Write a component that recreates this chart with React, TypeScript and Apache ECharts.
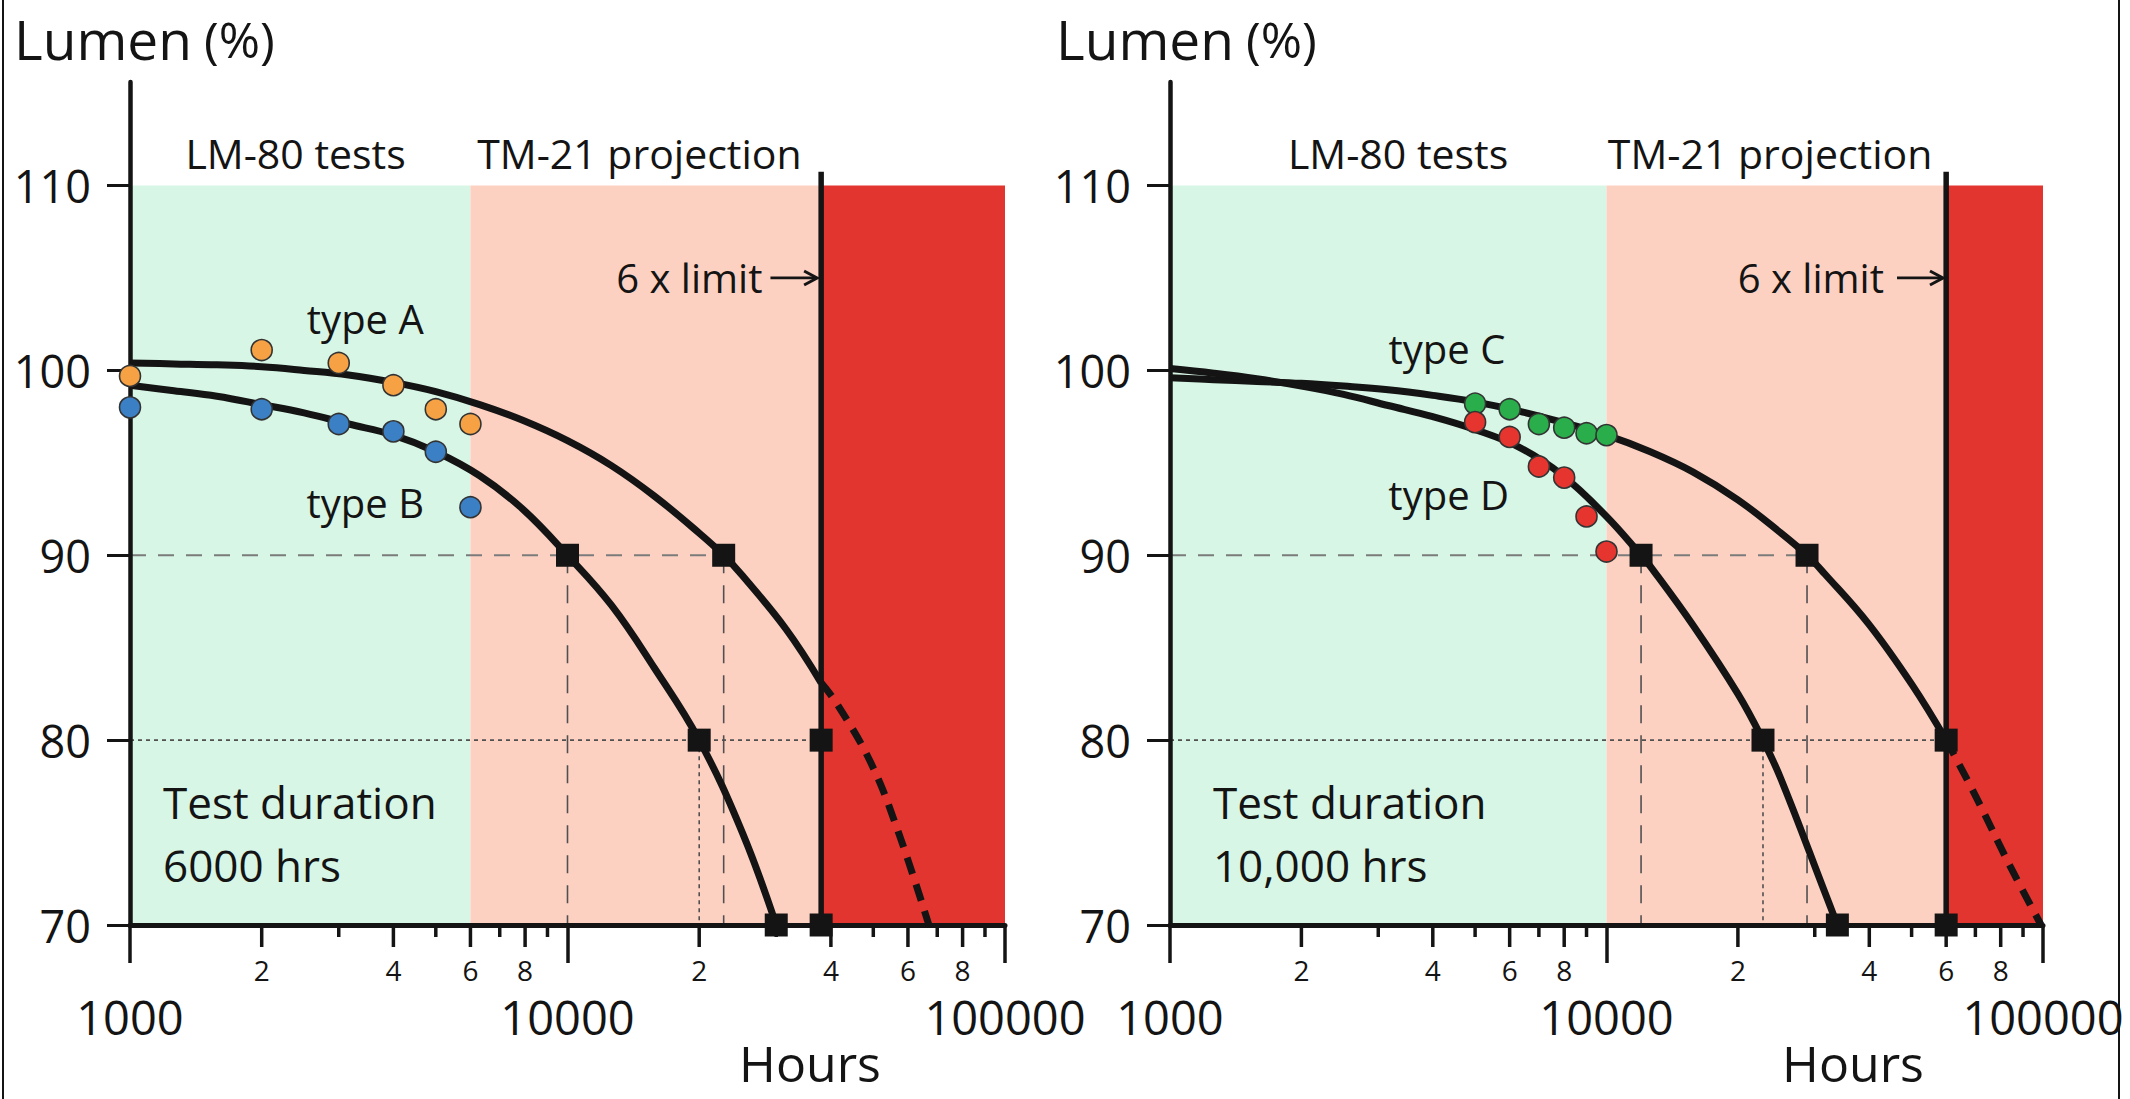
import React, { useEffect, useRef } from 'react';
import * as echarts from 'echarts';

const FONT = '"Open Sans", "Noto Sans", "DejaVu Sans", sans-serif';
const INK = '#141414';

// ---------- axes ----------
const yTickValues = [70, 80, 90, 100, 110];
const minorTickHours = [2000, 3000, 4000, 5000, 6000, 7000, 8000, 9000, 20000, 30000, 40000, 50000, 60000, 70000, 80000, 90000];
const minorTickLabels = ['2', '', '4', '', '6', '', '8', '', '2', '', '4', '', '6', '', '8', ''];
const zoneLumen = [70, 110];
const zoneColors = ['#d7f6e6', '#fdd1c2', '#e3352f'];
const limitTop = 110.75;

// ---------- left panel: 6000 h test ----------
const testHoursAB = [1000, 2000, 3000, 4000, 5000, 6000];
const lumenTypeA = [99.7, 101.1, 100.4, 99.2, 97.9, 97.1];
const lumenTypeB = [98.0, 97.9, 97.1, 96.7, 95.6, 92.6];
const fitTypeA = [[1000, 100.4], [1260, 100.35], [1580, 100.3], [2000, 100.2], [2500, 100.0], [3160, 99.75], [4000, 99.35], [5000, 98.85], [6300, 98.15], [7900, 97.3], [10000, 96.2], [12600, 94.85], [15800, 93.2], [20000, 91.2], [22750, 90.0], [25100, 88.9], [31600, 86.0], [38000, 83.1]];
const fitTypeAProjected = [[38000, 83.1], [41200, 82.0], [49300, 78.8], [56900, 75.1], [67000, 70.0]];
const fitTypeB = [[1000, 99.2], [1260, 98.9], [1580, 98.6], [2000, 98.15], [2500, 97.7], [3160, 97.1], [4000, 96.5], [5000, 95.6], [6300, 94.3], [7900, 92.5], [10000, 90.0], [12600, 87.3], [15800, 83.9], [20000, 80.0], [25100, 75.0], [30000, 70.0]];
const milestonesAB = [[10000, 90], [22750, 90], [20000, 80], [38000, 80], [30000, 70], [38000, 70]];
const zonesAB = [1000, 6000, 38000, 100000];
const limitAB = 38000;
const guide90AB = [[1000, 90], [22750, 90]];
const guide80AB = [[1000, 80], [38000, 80]];
const dropsFrom90AB = [10000, 22750];
const dropsFrom80AB = [20000];

// ---------- right panel: 10,000 h test ----------
const testHoursCD = [5000, 6000, 7000, 8000, 9000, 10000];
const lumenTypeC = [98.2, 97.9, 97.1, 96.9, 96.6, 96.5];
const lumenTypeD = [97.2, 96.4, 94.8, 94.2, 92.1, 90.2];
const fitTypeC = [[1000, 99.6], [1260, 99.5], [1580, 99.4], [2000, 99.3], [2500, 99.15], [3160, 98.95], [4000, 98.65], [5000, 98.3], [6300, 97.8], [7900, 97.2], [10000, 96.5], [12600, 95.6], [15800, 94.5], [20000, 93.0], [25100, 91.2], [28800, 90.0], [31600, 89.0], [39800, 86.3], [50100, 83.0], [60000, 80.0]];
const fitTypeCProjected = [[60000, 80.0], [70000, 77.0], [84000, 73.2], [99000, 70.0]];
const fitTypeD = [[1000, 100.1], [1260, 99.85], [1580, 99.55], [2000, 99.15], [2500, 98.7], [3160, 98.1], [4000, 97.5], [5000, 96.8], [6300, 95.85], [7900, 94.35], [10000, 92.1], [12000, 90.0], [12600, 89.4], [15800, 86.2], [20000, 82.5], [22830, 80.0], [25100, 77.9], [31600, 71.8], [33800, 70.0]];
const milestonesCD = [[12000, 90], [28800, 90], [22830, 80], [60000, 80], [33800, 70], [60000, 70]];
const zonesCD = [1000, 10000, 60000, 100000];
const limitCD = 60000;
const guide90CD = [[1000, 90], [28800, 90]];
const guide80CD = [[1000, 80], [60000, 80]];
const dropsFrom90CD = [12000, 28800];
const dropsFrom80CD = [22830];

// ---------- text annotations (data coords) ----------
const notesAB = [
  { text: 'LM-80 tests', x: 2390, y: 111.75, align: 'center', size: 41 },
  { text: 'TM-21 projection', x: 14600, y: 111.75, align: 'center', size: 41 },
  { text: '6 x limit', x: 27900, y: 105, align: 'right', size: 40 },
  { text: 'type A', x: 3450, y: 102.8, align: 'center', size: 40 },
  { text: 'type B', x: 3450, y: 92.85, align: 'center', size: 40 },
  { text: 'Test duration\n6000 hrs', x: 1190, y: 74.95, align: 'left', size: 44 },
];
const notesCD = [
  { text: 'LM-80 tests', x: 3330, y: 111.75, align: 'center', size: 41 },
  { text: 'TM-21 projection', x: 23700, y: 111.75, align: 'center', size: 41 },
  { text: '6 x limit', x: 43200, y: 105, align: 'right', size: 40 },
  { text: 'type C', x: 4310, y: 101.2, align: 'center', size: 40 },
  { text: 'type D', x: 4350, y: 93.3, align: 'center', size: 40 },
  { text: 'Test duration\n10,000 hrs', x: 1254, y: 74.95, align: 'left', size: 44 },
];
const arrowAB = [29100, 37200];
const arrowCD = [46300, 59000];

const panels = [
  {
    hours: testHoursAB, upper: lumenTypeA, lower: lumenTypeB, upperColor: '#f6a244', lowerColor: '#3b7fc4',
    fitUpper: fitTypeA, fitUpperProj: fitTypeAProjected, fitLower: fitTypeB, milestones: milestonesAB,
    zones: zonesAB, limit: limitAB, guide90: guide90AB, guide80: guide80AB, drops90: dropsFrom90AB, drops80: dropsFrom80AB,
    notes: notesAB, arrow: arrowAB,
  },
  {
    hours: testHoursCD, upper: lumenTypeC, lower: lumenTypeD, upperColor: '#2aae4b', lowerColor: '#e5352e',
    fitUpper: fitTypeC, fitUpperProj: fitTypeCProjected, fitLower: fitTypeD, milestones: milestonesCD,
    zones: zonesCD, limit: limitCD, guide90: guide90CD, guide80: guide80CD, drops90: dropsFrom90CD, drops80: dropsFrom80CD,
    notes: notesCD, arrow: arrowCD,
  },
];

function panelSeries(i: number, p: any): any[] {
  const ax = { xAxisIndex: i, yAxisIndex: i, silent: true };
  const seg = (data: any[], lineStyle: any, z = 2) => ({
    type: 'line', ...ax, z, symbol: 'none', data, lineStyle, emphasis: { disabled: true },
  });
  const s: any[] = [];
  // background zones
  s.push({
    type: 'custom', ...ax, z: 1, clip: false,
    data: p.zones.slice(0, -1).map((x0: number, k: number) => [x0, p.zones[k + 1], zoneLumen[0], zoneLumen[1]]),
    encode: { x: [0, 1], y: [2, 3] },
    renderItem: (params: any, api: any) => {
      const a = api.coord([api.value(0), api.value(3)]);
      const b = api.coord([api.value(1), api.value(2)]);
      return { type: 'rect', shape: { x: a[0], y: a[1], width: b[0] - a[0], height: b[1] - a[1] }, style: { fill: zoneColors[params.dataIndex] } };
    },
  });
  // guide lines
  s.push(seg(p.guide90, { color: '#7b7b7b', width: 2.2, type: [16, 12] }));
  s.push(seg(p.guide80, { color: '#505050', width: 1.6, type: [4, 4] }));
  p.drops90.forEach((x: number) => s.push(seg([[x, 90], [x, 70]], { color: '#505050', width: 1.6, type: [18, 12] })));
  p.drops80.forEach((x: number) => s.push(seg([[x, 80], [x, 70]], { color: '#505050', width: 1.6, type: [4, 4] })));
  // 6x limit line
  s.push(seg([[p.limit, limitTop], [p.limit, 70]], { color: INK, width: 5.5 }, 4));
  // fitted curves
  s.push({ type: 'line', ...ax, z: 4, smooth: 0.4, symbol: 'none', data: p.fitUpper, lineStyle: { color: INK, width: 7 } });
  s.push({ type: 'line', ...ax, z: 4, smooth: 0.4, symbol: 'none', data: p.fitUpperProj, lineStyle: { color: INK, width: 7, type: [17, 11] } });
  s.push({ type: 'line', ...ax, z: 4, smooth: 0.4, symbol: 'none', data: p.fitLower, lineStyle: { color: INK, width: 7 } });
  // milestones
  s.push({ type: 'scatter', ...ax, z: 6, symbol: 'rect', symbolSize: 23, data: p.milestones, itemStyle: { color: INK, opacity: 1 } });
  // measured points
  s.push({ type: 'scatter', ...ax, z: 5, symbolSize: 21, data: p.hours.map((h: number, k: number) => [h, p.upper[k]]), itemStyle: { color: p.upperColor, borderColor: '#333', borderWidth: 1.6, opacity: 1 } });
  s.push({ type: 'scatter', ...ax, z: 5, symbolSize: 21, data: p.hours.map((h: number, k: number) => [h, p.lower[k]]), itemStyle: { color: p.lowerColor, borderColor: '#333', borderWidth: 1.6, opacity: 1 } });
  // minor ticks + small labels of log axis
  s.push({
    type: 'custom', ...ax, z: 3, clip: false,
    data: minorTickHours.map((h) => [h, 70]),
    encode: { x: 0, y: 1 },
    renderItem: (params: any, api: any) => {
      const pt = api.coord([api.value(0), api.value(1)]);
      const label = minorTickLabels[params.dataIndex];
      const len = label ? 22 : 12;
      const children: any[] = [
        { type: 'line', shape: { x1: pt[0], y1: pt[1], x2: pt[0], y2: pt[1] + len }, style: { stroke: INK, lineWidth: 3.5 } },
      ];
      if (label) {
        children.push({ type: 'text', x: pt[0], y: pt[1] + 45, style: { text: label, fill: INK, font: `28px ${FONT}`, align: 'center', verticalAlign: 'middle' } });
      }
      return { type: 'group', children };
    },
  });
  // arrow to limit line
  s.push({
    type: 'custom', ...ax, z: 8, clip: false,
    data: [[p.arrow[0], p.arrow[1], 105]],
    encode: { x: [0, 1], y: 2 },
    renderItem: (params: any, api: any) => {
      const a = api.coord([api.value(0), api.value(2)]);
      const b = api.coord([api.value(1), api.value(2)]);
      return {
        type: 'group', children: [
          { type: 'line', shape: { x1: a[0], y1: a[1], x2: b[0] - 2, y2: b[1] }, style: { stroke: INK, lineWidth: 2.8 } },
          { type: 'polyline', shape: { points: [[b[0] - 13, b[1] - 7], [b[0], b[1]], [b[0] - 13, b[1] + 7]] }, style: { stroke: INK, lineWidth: 3, fill: 'none' } },
        ],
      };
    },
  });
  // text annotations
  s.push({
    type: 'scatter', ...ax, z: 8, symbolSize: 1, itemStyle: { color: 'rgba(0,0,0,0)', opacity: 1 },
    data: p.notes.map((n: any) => ({
      value: [n.x, n.y],
      label: {
        show: true, position: 'inside', formatter: n.text, align: n.align, verticalAlign: 'middle',
        fontSize: n.size, fontFamily: FONT, color: INK, lineHeight: 63, textBorderWidth: 0,
      },
    })),
  });
  return s;
}

function buildOption(): any {
  const grids = [
    { left: 130, top: 82, width: 875, height: 843 },
    { left: 1170, top: 82, width: 873, height: 843 },
  ];
  const xAxis = [0, 1].map((i) => ({
    type: 'log', logBase: 10, gridIndex: i, min: 1000, max: 100000, z: 3,
    axisLine: { show: true, onZero: false, lineStyle: { color: INK, width: 5 } },
    axisTick: { show: true, length: 38, lineStyle: { color: INK, width: 3.5 } },
    axisLabel: { show: true, margin: 92, verticalAlign: 'middle', fontSize: 47, fontFamily: FONT, color: INK, formatter: (v: number) => String(Math.round(v)) },
    splitLine: { show: false }, minorTick: { show: false }, minorSplitLine: { show: false },
  }));
  const yAxis = [0, 1].map((i) => ({
    type: 'value', gridIndex: i, min: 70, max: 115.6, z: 3,
    axisLine: { show: true, onZero: false, lineStyle: { color: INK, width: 4.5 } },
    axisTick: { show: true, length: 23, customValues: yTickValues, lineStyle: { color: INK, width: 3 } },
    axisLabel: { show: true, margin: 39, customValues: yTickValues, fontSize: 45, fontFamily: FONT, color: INK },
    splitLine: { show: false },
  }));
  const textEl = (text: string, x: number, y: number, size: number, align = 'left') => ({
    type: 'text', x, y, silent: true, z: 10,
    style: { text, fill: INK, font: `${size}px ${FONT}`, align, verticalAlign: 'middle' },
  });
  return {
    animation: false,
    backgroundColor: '#ffffff',
    grid: grids,
    xAxis,
    yAxis,
    tooltip: { show: false },
    series: [...panelSeries(0, panels[0]), ...panelSeries(1, panels[1])],
    graphic: [
      textEl('Lumen', 14, 38, 55),
      textEl('(%)', 204, 39, 50),
      textEl('Lumen', 1056, 38, 55),
      textEl('(%)', 1246, 39, 50),
      textEl('Hours', 810, 1063, 50, 'center'),
      textEl('Hours', 1853, 1063, 50, 'center'),
      { type: 'line', silent: true, shape: { x1: 3, y1: 0, x2: 3, y2: 1099 }, style: { stroke: INK, lineWidth: 2 } },
      { type: 'line', silent: true, shape: { x1: 2119, y1: 0, x2: 2119, y2: 1099 }, style: { stroke: INK, lineWidth: 2 } },
    ],
  };
}

export default function App() {
  const ref = useRef<HTMLDivElement>(null);
  useEffect(() => {
    if (!ref.current) return;
    const chart = echarts.init(ref.current, null, { renderer: 'svg' });
    chart.setOption(buildOption());
    return () => chart.dispose();
  }, []);
  return (
    <div
      ref={ref}
      style={{ position: 'absolute', left: 0, top: 0, width: 2130, height: 1099, background: '#fff' }}
    />
  );
}
